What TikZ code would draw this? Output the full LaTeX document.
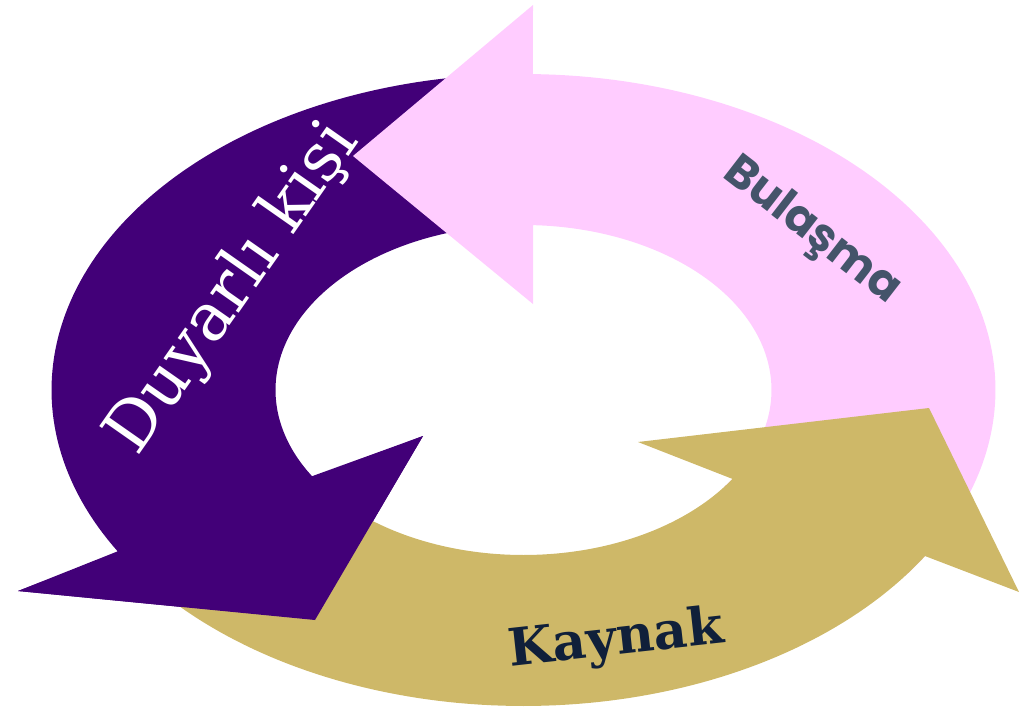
\documentclass[tikz,border=0pt]{standalone}
\usepackage{fontspec}
\newfontfamily\serifA{DejaVu Serif}
\newfontfamily\roundA{Poppins}
\definecolor{purpA}{HTML}{420078}
\definecolor{pinkA}{HTML}{FFCCFF}
\definecolor{goldA}{HTML}{CEB868}
\definecolor{bulC}{HTML}{44546A}
\definecolor{kayC}{HTML}{10203A}
\begin{document}
\begin{tikzpicture}[x=0.02cm,y=-0.02cm]
\useasboundingbox (0,0) rectangle (1036,714);
\def\cx{523.5}\def\cy{390}
\def\ao{472}\def\bo{316}\def\ai{248}\def\bi{165}
% purple arrow (shaft + head)
\fill[purpA] plot[domain=262:149.3,samples=90] ({\cx+\ao*cos(\x)},{\cy+\bo*sin(\x)})
  -- (18,591) -- (315,620) -- (423,436)
  -- plot[domain=148.5:253,samples=90] ({\cx+\ai*cos(\x)},{\cy+\bi*sin(\x)}) -- cycle;
% pink arrow
\fill[pinkA] plot[domain=36:-88.85,samples=90] ({\cx+\ao*cos(\x)},{\cy+\bo*sin(\x)})
  -- (533,5) -- (353,156) -- (533,304)
  -- plot[domain=-87.8:36,samples=90] ({\cx+\ai*cos(\x)},{\cy+\bi*sin(\x)}) -- cycle;
% gold arrow
\fill[goldA] plot[domain=147:31.7,samples=90] ({\cx+\ao*cos(\x)},{\cy+\bo*sin(\x)})
  -- (1019,592) -- (929,408) -- (638,442)
  -- plot[domain=32.6:146,samples=90] ({\cx+\ai*cos(\x)},{\cy+\bi*sin(\x)}) -- cycle;
% purple head on top
\fill[purpA] (18,591) -- (315,620) -- (423,436) -- cycle;
% labels
\node[rotate=55,text=white,inner sep=0pt,font=\serifA\fontsize{38}{38}\selectfont] (duy) at (234,289) {Duyarlı kişi};
\node[rotate=-37.7,text=bulC,inner sep=0pt,font=\roundA\bfseries\fontsize{26}{26}\selectfont] (bul) at (811,232) {Bulaşma};
\node[rotate=6.3,text=kayC,inner sep=0pt,font=\serifA\bfseries\fontsize{29.5}{29.5}\selectfont] (kay) at (616,641) {Kaynak};
\end{tikzpicture}
\end{document}
